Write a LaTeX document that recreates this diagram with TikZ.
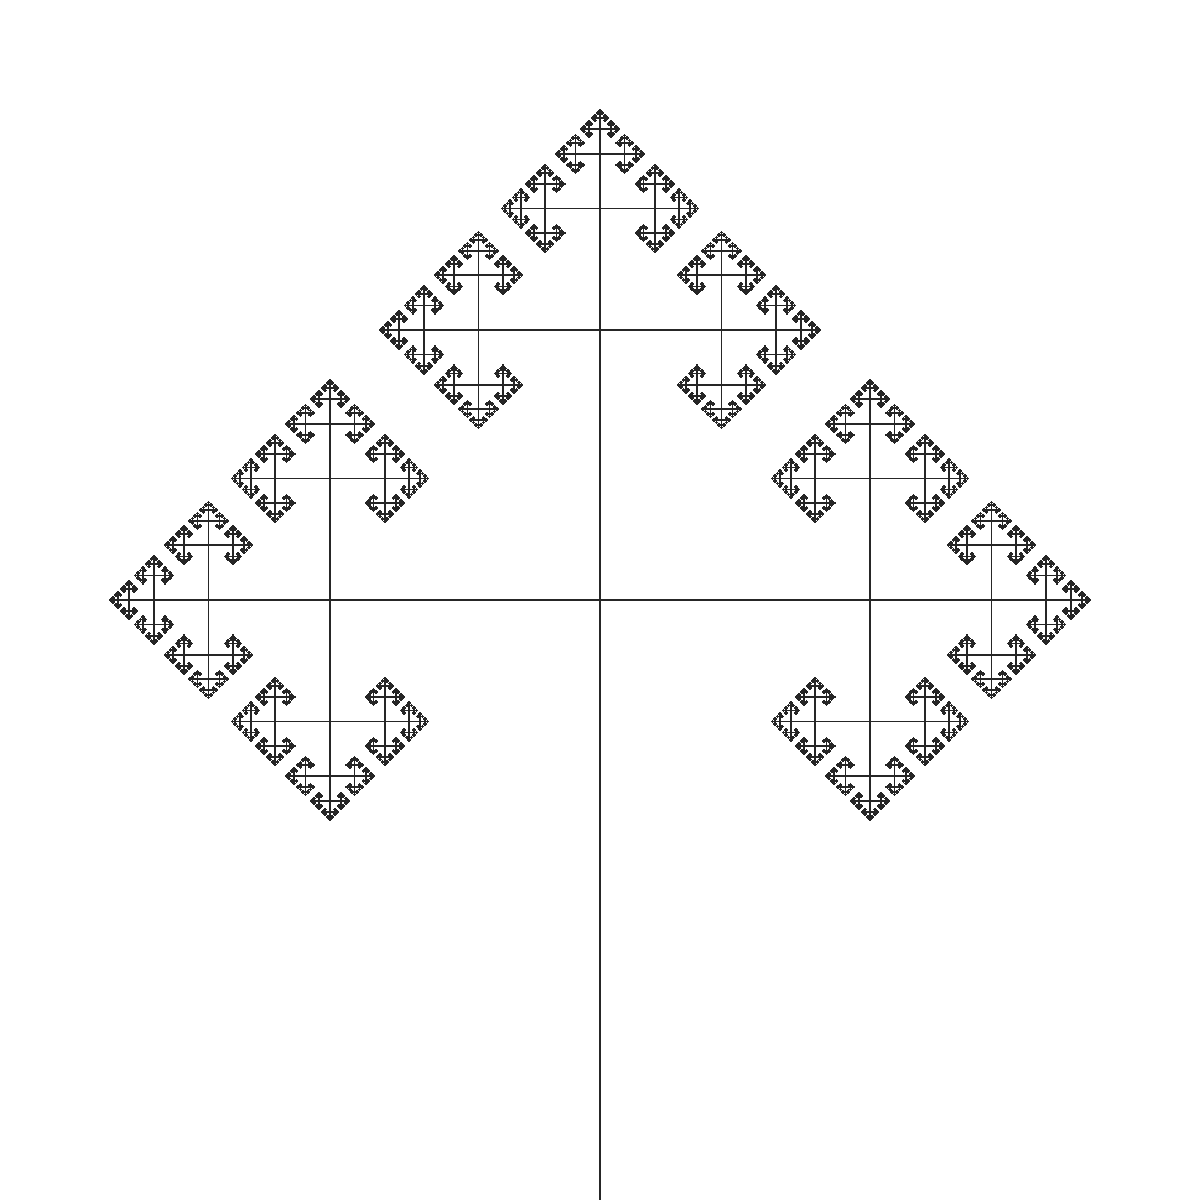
\documentclass[tikz,border=0pt]{standalone}
\usepackage{tikz}

\tikzset{treeline/.style={black!85, line width=0.5pt, line cap=rect}}

%-- one branch of unit length, with three children scaled by 0.45
\newcommand\treebranch[1]{%
  \draw[treeline] (0,0) -- (0,1);
  \ifnum#1>0
    \foreach \ang in {90,0,-90}{%
      \begin{scope}[shift={(0,1)}, rotate=\ang, scale=0.45]
        \treebranch{\numexpr#1-1\relax}
      \end{scope}}%
  \fi}

\begin{document}
\begin{tikzpicture}

\useasboundingbox[fill=white] (0,0) rectangle (12,12);

%-- trunk from the bottom edge, then the ternary branching
\begin{scope}[shift={(6,0)}, scale=6]
  \treebranch{8}
\end{scope}

\end{tikzpicture}
\end{document}
